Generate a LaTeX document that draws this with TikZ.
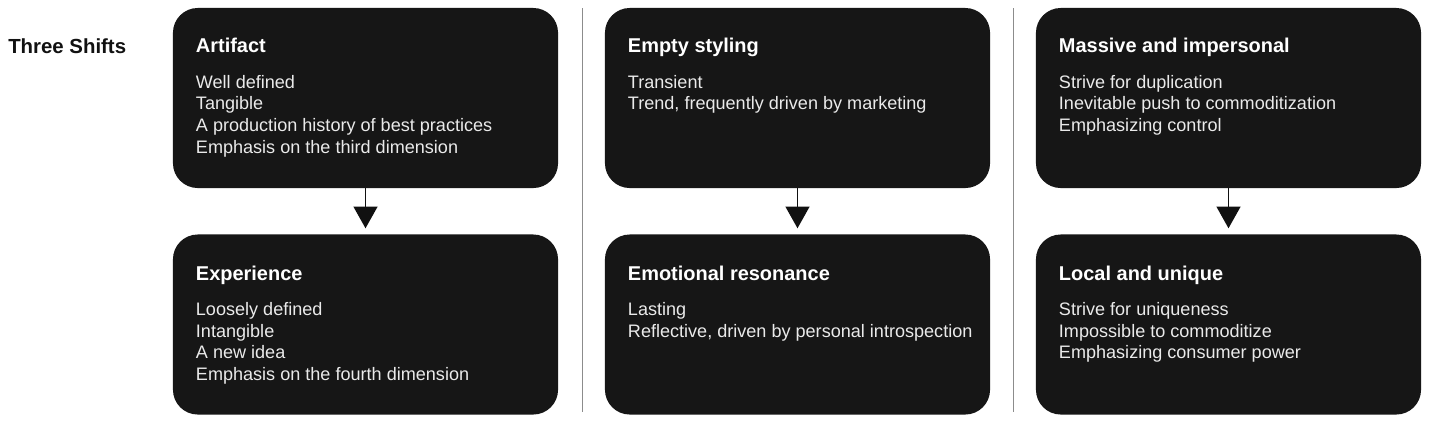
\documentclass[tikz,border=0pt]{standalone}
\usepackage{fontspec}
\setmainfont{Liberation Sans}
\usetikzlibrary{arrows.meta, positioning, calc}
\definecolor{boxblack}{HTML}{161616}
\definecolor{bodywhite}{HTML}{EAEAEA}
\definecolor{rulegray}{HTML}{8C8C8C}
\definecolor{dkink}{HTML}{111111}

\tikzset{
  shiftbox/.style={fill=boxblack, rounded corners=0.62cm, minimum width=9.625cm, minimum height=4.5cm, inner sep=0pt},
  boxtitle/.style={text=white, font=\fontsize{14.2}{16}\selectfont\bfseries, anchor=base west, inner sep=0pt},
  boxbody/.style={text=bodywhite, font=\fontsize{12.85}{15.4}\selectfont, align=left, anchor=north west, inner sep=0pt},
  shiftarrow/.style={draw=dkink, line width=1.4pt, -{Triangle[length=15.5pt, width=17pt]}, shorten >=4.2pt},
}

\begin{document}
\begin{tikzpicture}[x=0.025cm, y=-0.025cm]

% Background
\useasboundingbox (0,0) rectangle (1429,424);
\fill[white] (0,0) rectangle (1429,424);

% Heading
\node[text=dkink, font=\fontsize{14.5}{16}\selectfont\bfseries, anchor=base west, inner sep=0pt] (heading) at (8,53) {Three Shifts};

% Separators
\draw[rulegray, line width=0.6pt] (582,8) -- (582,412);
\draw[rulegray, line width=0.6pt] (1013,8) -- (1013,412);

% Column 1
\node[shiftbox] (artifact) at (365.5,98) {};
\node[boxtitle] (artifactT) at ($(artifact.north west)+(23,45)$) {Artifact};
\node[boxbody] (artifactB) at ($(artifact.north west)+(23,67)$)
  {Well defined\\Tangible\\A production history of best practices\\Emphasis on the third dimension};

\node[shiftbox] (experience) at (365.5,324.5) {};
\node[boxtitle] (experienceT) at ($(experience.north west)+(23,46)$) {Experience};
\node[boxbody] (experienceB) at ($(experience.north west)+(23,68)$)
  {Loosely defined\\Intangible\\A new idea\\Emphasis on the fourth dimension};

\draw[shiftarrow] (artifact) -- (experience);

% Column 2
\node[shiftbox] (styling) at (797.5,98) {};
\node[boxtitle] (stylingT) at ($(styling.north west)+(23,45)$) {Empty styling};
\node[boxbody] (stylingB) at ($(styling.north west)+(23,67)$)
  {Transient\\Trend, frequently driven by marketing};

\node[shiftbox] (resonance) at (797.5,324.5) {};
\node[boxtitle] (resonanceT) at ($(resonance.north west)+(23,46)$) {Emotional resonance};
\node[boxbody] (resonanceB) at ($(resonance.north west)+(23,68)$)
  {Lasting\\Reflective, driven by personal introspection};

\draw[shiftarrow] (styling) -- (resonance);

% Column 3
\node[shiftbox] (massive) at (1228.5,98) {};
\node[boxtitle] (massiveT) at ($(massive.north west)+(23,45)$) {Massive and impersonal};
\node[boxbody] (massiveB) at ($(massive.north west)+(23,67)$)
  {Strive for duplication\\Inevitable push to commoditization\\Emphasizing control};

\node[shiftbox] (local) at (1228.5,324.5) {};
\node[boxtitle] (localT) at ($(local.north west)+(23,46)$) {Local and unique};
\node[boxbody] (localB) at ($(local.north west)+(23,68)$)
  {Strive for uniqueness\\Impossible to commoditize\\Emphasizing consumer power};

\draw[shiftarrow] (massive) -- (local);

\end{tikzpicture}
\end{document}
